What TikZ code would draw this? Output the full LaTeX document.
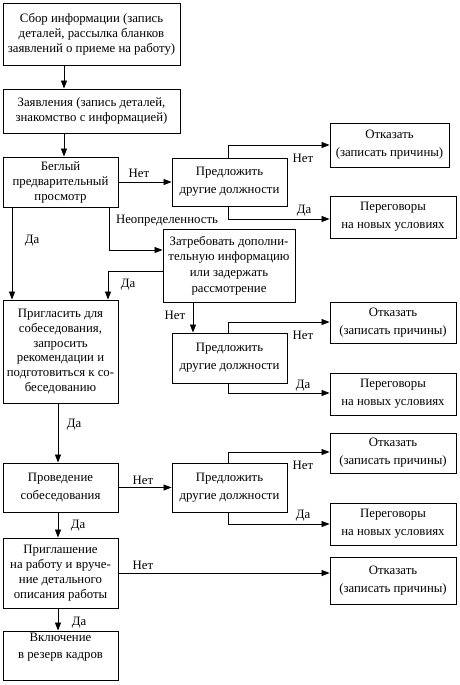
\documentclass[tikz,border=0pt]{standalone}
\usepackage{fontspec}
\setmainfont{Liberation Serif}
\usetikzlibrary{arrows.meta}
\begin{document}
\begin{tikzpicture}[x=1pt,y=-1pt,
  box/.style={draw,line width=0.9pt,rectangle,align=center,inner sep=1pt,
    font=\fontsize{12.8}{15}\selectfont},
  wbox/.style={box,font=\fontsize{12.8}{18}\selectfont},
  arr/.style={line width=0.8pt,-{Triangle[length=8pt,width=6pt]}},
  lab/.style={font=\fontsize{12.8}{15}\selectfont,inner sep=0pt}]
\useasboundingbox (0,0) rectangle (460,685);
% boxes
\node[box,minimum width=177,minimum height=62] (b1) at (91.5,34) {Сбор информации (запись\\деталей, рассылка бланков\\заявлений о приеме на работу)};
\node[box,minimum width=177,minimum height=44] (b2) at (91.5,111) {Заявления (запись деталей,\\знакомство с информацией)};
\node[box,minimum width=115,minimum height=50] (b3) at (60.5,182) {Беглый\\предварительный\\просмотр};
\node[wbox,minimum width=115,minimum height=48] (p1) at (229.5,182) {Предложить\\другие должности};
\node[wbox,minimum width=119,minimum height=44] (o1) at (389.5,145) {Отказать\\(записать причины)};
\node[wbox,minimum width=126,minimum height=42] (n1) at (393,217) {Переговоры\\на новых условиях};
\node[box,font=\fontsize{12.8}{15.7}\selectfont,minimum width=132,minimum height=73] (z) at (229,265.5) {Затребовать дополни-\\тельную информацию\\или задержать\\рассмотрение};
\node[box,font=\fontsize{12.8}{14.8}\selectfont,minimum width=115,minimum height=103] (b4) at (60.5,351.5) {Пригласить для\\собеседования,\\запросить\\рекомендации и\\подготовиться к со-\\беседованию};
\node[wbox,minimum width=115,minimum height=50] (p2) at (229.5,358) {Предложить\\другие должности};
\node[wbox,minimum width=126,minimum height=41] (o2) at (393,322.5) {Отказать\\(записать причины)};
\node[wbox,minimum width=126,minimum height=42] (n2) at (393,394) {Переговоры\\на новых условиях};
\node[wbox,minimum width=115,minimum height=49] (b5) at (60.5,487.5) {Проведение\\собеседования};
\node[wbox,minimum width=115,minimum height=49] (p3) at (229.5,487.5) {Предложить\\другие должности};
\node[wbox,minimum width=126,minimum height=40] (o3) at (393,453) {Отказать\\(записать причины)};
\node[wbox,minimum width=126,minimum height=42] (n3) at (393,524) {Переговоры\\на новых условиях};
\node[box,minimum width=115,minimum height=70] (b6) at (60.5,573) {Приглашение\\на работу и вруче-\\ние детального\\описания работы};
\node[wbox,minimum width=126,minimum height=47] (o4) at (393,580.5) {Отказать\\(записать причины)};
\node[box,font=\fontsize{12.8}{17}\selectfont,minimum width=115,minimum height=49] (b7) at (60.5,655.5) {Включение\\в резерв кадров\\[2pt]};
% helper coordinates
\coordinate (xA) at (64,0);
\coordinate (xB) at (12,0);
\coordinate (xC) at (109,0);
\coordinate (xD) at (108,0);
\coordinate (xE) at (58,0);
\coordinate (xF) at (193,0);
\coordinate (xP) at (228,0);
\coordinate (yU) at (0,250);
\coordinate (yZ) at (0,271);
\coordinate (y1a) at (0,145);
\coordinate (y1b) at (0,219);
\coordinate (y2a) at (0,322);
\coordinate (y2b) at (0,393);
\coordinate (y3a) at (0,452);
\coordinate (y3b) at (0,524);
% connectors
\draw[arr] (b1.south -| xA) -- (b2.north -| xA);
\draw[arr] (b2.south -| xA) -- (b3.north -| xA);
\draw[arr] (b3.east) -- (p1.west);
\draw[arr] (p1.north -| xP) |- (o1.west |- y1a);
\draw[arr] (p1.south -| xP) |- (n1.west |- y1b);
\draw[arr] (b3.south -| xC) |- (z.west |- yU);
\draw[arr] (b3.south -| xB) -- (b4.north -| xB);
\draw[arr] (z.west |- yZ) -| (b4.north -| xD);
\draw[arr] (z.south -| xF) -- (p2.north -| xF);
\draw[arr] (p2.north -| xP) |- (o2.west |- y2a);
\draw[arr] (p2.south -| xP) |- (n2.west |- y2b);
\draw[arr] (b4.south -| xE) -- (b5.north -| xE);
\draw[arr] (b5.east) -- (p3.west);
\draw[arr] (p3.north -| xP) |- (o3.west |- y3a);
\draw[arr] (p3.south -| xP) |- (n3.west |- y3b);
\draw[arr] (b5.south -| xE) -- (b6.north -| xE);
\draw[arr] (b6.east) -- (b6.east -| o4.west);
\draw[arr] (b6.south -| xE) -- (b7.north -| xE);
% labels
\node[lab] (l1) at (139,173) {Нет};
\node[lab] (l2) at (303,158) {Нет};
\node[lab] (l3) at (304,211) {Да};
\node[lab] (l4) at (167,221) {Неопределенность};
\node[lab] (l5) at (32,241) {Да};
\node[lab] (l6) at (128,285) {Да};
\node[lab] (l7) at (175,315) {Нет};
\node[lab] (l8) at (303,335) {Нет};
\node[lab] (l9) at (303,386) {Да};
\node[lab] (l10) at (74,425) {Да};
\node[lab] (l11) at (143,480) {Нет};
\node[lab] (l12) at (303,465) {Нет};
\node[lab] (l13) at (303,516) {Да};
\node[lab] (l14) at (78,526) {Да};
\node[lab] (l15) at (143,565) {Нет};
\node[lab] (l16) at (79,623) {Да};
\end{tikzpicture}
\end{document}
